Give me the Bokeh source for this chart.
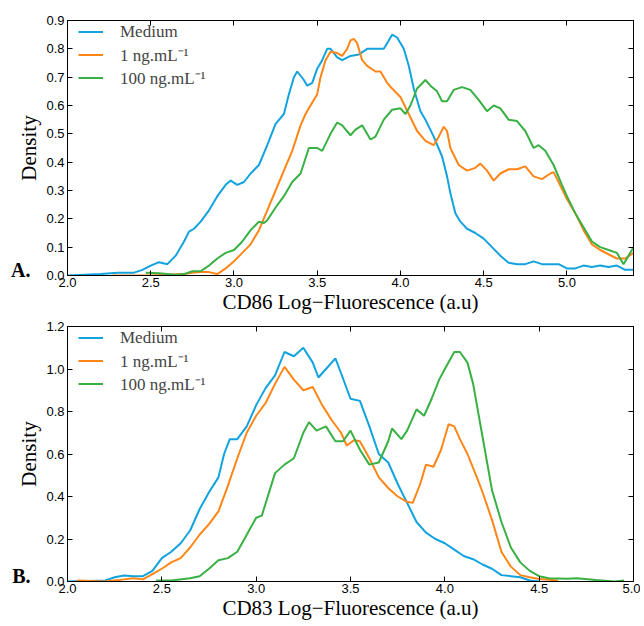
from bokeh.plotting import figure
from bokeh.models import (Range1d, FixedTicker, PrintfTickFormatter, LinearAxis,
                          Legend, LegendItem)
from bokeh.layouts import column
from bokeh.embed import file_html
from bokeh.resources import INLINE

# ---------------- Data: panel A (CD86) ----------------
a_med_x = [2.0, 2.2, 2.3, 2.4, 2.45, 2.5, 2.55, 2.6, 2.65, 2.7, 2.73, 2.76, 2.8, 2.85, 2.9, 2.95,
           2.98, 3.02, 3.06, 3.1, 3.15, 3.2, 3.25, 3.3, 3.33, 3.36, 3.38, 3.42, 3.44, 3.47, 3.5,
           3.53, 3.56, 3.58, 3.62, 3.65, 3.7, 3.75, 3.8, 3.85, 3.9, 3.92, 3.95, 3.98, 4.02, 4.05,
           4.08, 4.12, 4.15, 4.2, 4.25, 4.28, 4.3, 4.33, 4.36, 4.4, 4.45, 4.5, 4.55, 4.6, 4.65,
           4.7, 4.75, 4.8, 4.85, 4.9, 4.95, 5.0, 5.05, 5.1, 5.15, 5.2, 5.25, 5.3, 5.35, 5.4]
a_med_y = [0.0, 0.005, 0.01, 0.01, 0.02, 0.035, 0.047, 0.04, 0.07, 0.12, 0.155, 0.165, 0.19, 0.23,
           0.28, 0.32, 0.335, 0.32, 0.33, 0.36, 0.39, 0.46, 0.535, 0.57, 0.64, 0.70, 0.72, 0.69,
           0.67, 0.68, 0.73, 0.76, 0.80, 0.80, 0.77, 0.76, 0.775, 0.78, 0.80, 0.80, 0.80, 0.82,
           0.85, 0.84, 0.80, 0.74, 0.66, 0.58, 0.55, 0.49, 0.42, 0.35, 0.29, 0.22, 0.19, 0.165,
           0.15, 0.13, 0.10, 0.07, 0.045, 0.04, 0.04, 0.05, 0.04, 0.04, 0.04, 0.025, 0.025, 0.035,
           0.03, 0.035, 0.03, 0.035, 0.02, 0.02]

a_1ng_x = [2.27, 2.5, 2.7, 2.75, 2.8, 2.85, 2.9, 2.95, 3.0, 3.05, 3.1, 3.15, 3.2, 3.25, 3.3, 3.35,
           3.4, 3.43, 3.45, 3.5, 3.52, 3.55, 3.58, 3.62, 3.65, 3.68, 3.7, 3.72, 3.74, 3.77, 3.8,
           3.85, 3.88, 3.92, 3.95, 4.0, 4.05, 4.1, 4.15, 4.2, 4.23, 4.26, 4.28, 4.3, 4.35, 4.4,
           4.45, 4.48, 4.52, 4.56, 4.6, 4.65, 4.7, 4.75, 4.8, 4.85, 4.9, 4.92, 4.95, 5.0, 5.05,
           5.1, 5.15, 5.2, 5.25, 5.3, 5.35, 5.4]
a_1ng_y = [0.0, 0.0, 0.005, 0.01, 0.012, 0.012, 0.005, 0.025, 0.05, 0.08, 0.11, 0.16, 0.23, 0.30,
           0.37, 0.44, 0.53, 0.57, 0.59, 0.64, 0.70, 0.76, 0.79, 0.785, 0.775, 0.80, 0.83, 0.835,
           0.82, 0.76, 0.74, 0.72, 0.72, 0.68, 0.66, 0.63, 0.57, 0.51, 0.475, 0.46, 0.49, 0.525,
           0.51, 0.45, 0.39, 0.37, 0.38, 0.395, 0.37, 0.335, 0.36, 0.375, 0.375, 0.385, 0.35,
           0.34, 0.36, 0.365, 0.33, 0.27, 0.22, 0.16, 0.11, 0.09, 0.075, 0.06, 0.06, 0.08]

a_100ng_x = [2.47, 2.55, 2.65, 2.7, 2.75, 2.8, 2.85, 2.9, 2.95, 3.0, 3.05, 3.1, 3.15, 3.18, 3.2,
             3.25, 3.3, 3.35, 3.4, 3.45, 3.5, 3.53, 3.58, 3.62, 3.65, 3.7, 3.73, 3.77, 3.82, 3.85,
             3.9, 3.95, 4.0, 4.03, 4.06, 4.1, 4.15, 4.18, 4.22, 4.25, 4.28, 4.32, 4.37, 4.42,
             4.47, 4.52, 4.56, 4.6, 4.65, 4.7, 4.75, 4.8, 4.83, 4.87, 4.92, 4.97, 5.0, 5.05, 5.1,
             5.15, 5.2, 5.25, 5.3, 5.34, 5.37, 5.4]
a_100ng_y = [0.01, 0.008, 0.003, 0.005, 0.015, 0.015, 0.035, 0.06, 0.08, 0.09, 0.12, 0.16, 0.19,
             0.185, 0.195, 0.24, 0.28, 0.33, 0.36, 0.45, 0.45, 0.44, 0.50, 0.54, 0.53, 0.495,
             0.515, 0.53, 0.48, 0.49, 0.55, 0.585, 0.59, 0.57, 0.60, 0.66, 0.69, 0.67, 0.65,
             0.615, 0.615, 0.655, 0.665, 0.655, 0.62, 0.58, 0.60, 0.59, 0.55, 0.545, 0.51, 0.45,
             0.46, 0.44, 0.39, 0.32, 0.28, 0.22, 0.17, 0.12, 0.10, 0.09, 0.08, 0.04, 0.07, 0.10]

# ---------------- Data: panel B (CD83) ----------------
b_med_x = [2.0, 2.2, 2.25, 2.3, 2.35, 2.4, 2.45, 2.5, 2.55, 2.6, 2.65, 2.7, 2.75, 2.8, 2.83, 2.86,
           2.9, 2.95, 3.0, 3.05, 3.1, 3.15, 3.2, 3.25, 3.3, 3.33, 3.37, 3.42, 3.45, 3.5, 3.55,
           3.6, 3.65, 3.7, 3.75, 3.8, 3.85, 3.9, 3.95, 4.0, 4.05, 4.1, 4.15, 4.2, 4.25, 4.3,
           4.35, 4.4, 4.45, 4.5]
b_med_y = [0.0, 0.005, 0.02, 0.028, 0.025, 0.025, 0.05, 0.11, 0.14, 0.18, 0.24, 0.34, 0.42, 0.49,
           0.60, 0.67, 0.67, 0.73, 0.83, 0.91, 0.97, 1.08, 1.06, 1.10, 1.03, 0.96, 1.00, 1.05,
           0.98, 0.86, 0.85, 0.73, 0.60, 0.56, 0.46, 0.37, 0.28, 0.23, 0.20, 0.18, 0.15, 0.12,
           0.105, 0.08, 0.06, 0.03, 0.025, 0.02, 0.005, 0.0]

b_1ng_x = [2.05, 2.2, 2.3, 2.35, 2.4, 2.45, 2.5, 2.55, 2.6, 2.65, 2.7, 2.75, 2.8, 2.85, 2.9, 2.95,
           3.0, 3.05, 3.1, 3.15, 3.2, 3.25, 3.3, 3.35, 3.4, 3.45, 3.48, 3.52, 3.55, 3.6, 3.65,
           3.7, 3.75, 3.8, 3.83, 3.87, 3.9, 3.94, 3.98, 4.02, 4.05, 4.08, 4.12, 4.17, 4.2, 4.25,
           4.3, 4.35, 4.4, 4.45, 4.5, 4.6]
b_1ng_y = [0.005, 0.0, 0.01, 0.015, 0.01, 0.035, 0.06, 0.09, 0.11, 0.16, 0.22, 0.27, 0.33, 0.45,
           0.58, 0.70, 0.78, 0.84, 0.93, 1.01, 0.95, 0.90, 0.915, 0.83, 0.76, 0.70, 0.64, 0.665,
           0.66, 0.58, 0.49, 0.44, 0.40, 0.375, 0.37, 0.46, 0.55, 0.54, 0.62, 0.74, 0.73, 0.67,
           0.60, 0.49, 0.42, 0.29, 0.14, 0.07, 0.03, 0.02, 0.012, 0.005]

b_100ng_x = [2.47, 2.55, 2.65, 2.7, 2.75, 2.8, 2.85, 2.9, 2.95, 3.0, 3.03, 3.1, 3.15, 3.2, 3.25,
             3.28, 3.32, 3.37, 3.42, 3.46, 3.5, 3.55, 3.6, 3.65, 3.7, 3.72, 3.77, 3.8, 3.85,
             3.89, 3.93, 3.97, 4.0, 4.05, 4.08, 4.12, 4.15, 4.2, 4.25, 4.3, 4.35, 4.4, 4.45,
             4.5, 4.55, 4.65, 4.7, 4.8, 4.9, 4.95]
b_100ng_y = [0.005, 0.005, 0.015, 0.025, 0.06, 0.10, 0.11, 0.14, 0.22, 0.30, 0.31, 0.51, 0.55,
             0.58, 0.70, 0.75, 0.71, 0.73, 0.66, 0.66, 0.71, 0.62, 0.55, 0.56, 0.66, 0.72, 0.67,
             0.71, 0.81, 0.78, 0.86, 0.95, 1.0, 1.08, 1.08, 1.03, 0.93, 0.68, 0.43, 0.28, 0.16,
             0.09, 0.05, 0.025, 0.015, 0.013, 0.015, 0.007, 0.0, 0.005]

series_names = ["Medium", "1 ng.mL\u207b\u00b9", "100 ng.mL\u207b\u00b9"]
colors = ["#12a3de", "#ff8516", "#38b043"]

panels = [
    dict(label="A.", xlab="CD86 Log\u2212Fluorescence (a.u)", xr=(2.0, 5.4), yr=(0.0, 0.9),
         xt=[2.0, 2.5, 3.0, 3.5, 4.0, 4.5, 5.0], yt=[0.0, 0.1, 0.2, 0.3, 0.4, 0.5, 0.6, 0.7, 0.8, 0.9],
         data=[(a_med_x, a_med_y), (a_1ng_x, a_1ng_y), (a_100ng_x, a_100ng_y)],
         top=20, bottom=43),
    dict(label="B.", xlab="CD83 Log\u2212Fluorescence (a.u)", xr=(2.0, 5.0), yr=(0.0, 1.2),
         xt=[2.0, 2.5, 3.0, 3.5, 4.0, 4.5, 5.0], yt=[0.0, 0.2, 0.4, 0.6, 0.8, 1.0, 1.2],
         data=[(b_med_x, b_med_y), (b_1ng_x, b_1ng_y), (b_100ng_x, b_100ng_y)],
         top=8, bottom=45),
]

SERIF = "Liberation Serif"
SANS = "Liberation Sans"
FRAME_H = 255
LEG_ROW = 23

figs = []
for pnl in panels:
    H = pnl["top"] + FRAME_H + pnl["bottom"]
    p = figure(width=640, height=H, output_backend="svg", toolbar_location=None,
               x_range=Range1d(*pnl["xr"]), y_range=Range1d(*pnl["yr"]),
               min_border_left=67, min_border_right=7,
               min_border_top=pnl["top"], min_border_bottom=pnl["bottom"])
    p.grid.visible = False
    p.outline_line_color = "black"
    p.outline_line_width = 1
    p.background_fill_color = "white"
    p.border_fill_color = "white"

    for ax, ticks in ((p.xaxis[0], pnl["xt"]), (p.yaxis[0], pnl["yt"])):
        ax.ticker = FixedTicker(ticks=ticks)
        ax.formatter = PrintfTickFormatter(format="%.1f")
        ax.major_tick_in = 5
        ax.major_tick_out = 0
        ax.minor_tick_line_color = None
        ax.axis_line_color = "black"
        ax.major_label_text_font = SANS
        ax.major_label_text_font_size = "13px"
        ax.major_label_text_color = "black"
        ax.major_label_standoff = 3
        ax.axis_label_text_font = SERIF
        ax.axis_label_text_font_style = "normal"
        ax.axis_label_text_font_size = "21px"
        ax.axis_label_text_color = "black"
        ax.axis_label_standoff = 0
    p.xaxis[0].major_label_standoff = 2
    p.yaxis[0].axis_label_standoff = 2
    p.xaxis[0].axis_label = pnl["xlab"]
    p.yaxis[0].axis_label = "Density"

    # tick marks (inward) on the top and right edges, as in the original
    for side, ticks in (("right", pnl["yt"]), ("above", pnl["xt"])):
        ax2 = LinearAxis(ticker=FixedTicker(ticks=ticks), major_tick_in=5, major_tick_out=0,
                         minor_tick_line_color=None, major_label_text_font_size="1px",
                         major_label_text_color=None,
                         major_label_standoff=0, axis_line_color="black")
        p.add_layout(ax2, side)

    # panel letter, drawn as the single label of an outer left axis
    y0, y1 = pnl["yr"]
    letter_pos = y0 + (y1 - y0) * 5.5 / FRAME_H
    ax3 = LinearAxis(ticker=FixedTicker(ticks=[letter_pos]),
                     formatter=PrintfTickFormatter(format=pnl["label"]),
                     axis_line_color=None, major_tick_line_color=None,
                     minor_tick_line_color=None, major_tick_in=0, major_tick_out=0,
                     major_label_text_font=SERIF, major_label_text_font_style="bold",
                     major_label_text_font_size="20px", major_label_text_color="black",
                     major_label_standoff=-16)
    p.add_layout(ax3, "left")

    items = []
    for (xs, ys), name, c in zip(pnl["data"], series_names, colors):
        r = p.line(xs, ys, line_color=c, line_width=2)
        items.append(LegendItem(label=name, renderers=[r]))

    leg_h = 3 * LEG_ROW
    legend = Legend(items=items, location=(11, FRAME_H - leg_h), orientation="vertical",
                    border_line_color=None, background_fill_alpha=0,
                    label_text_font=SERIF, label_text_font_size="17px",
                    glyph_width=25, glyph_height=LEG_ROW, label_height=LEG_ROW,
                    label_standoff=17, spacing=0, padding=0, margin=0)
    p.add_layout(legend)
    figs.append(p)

layout = column(*figs, spacing=0)
open("out.html", "w").write(file_html(layout, INLINE))
